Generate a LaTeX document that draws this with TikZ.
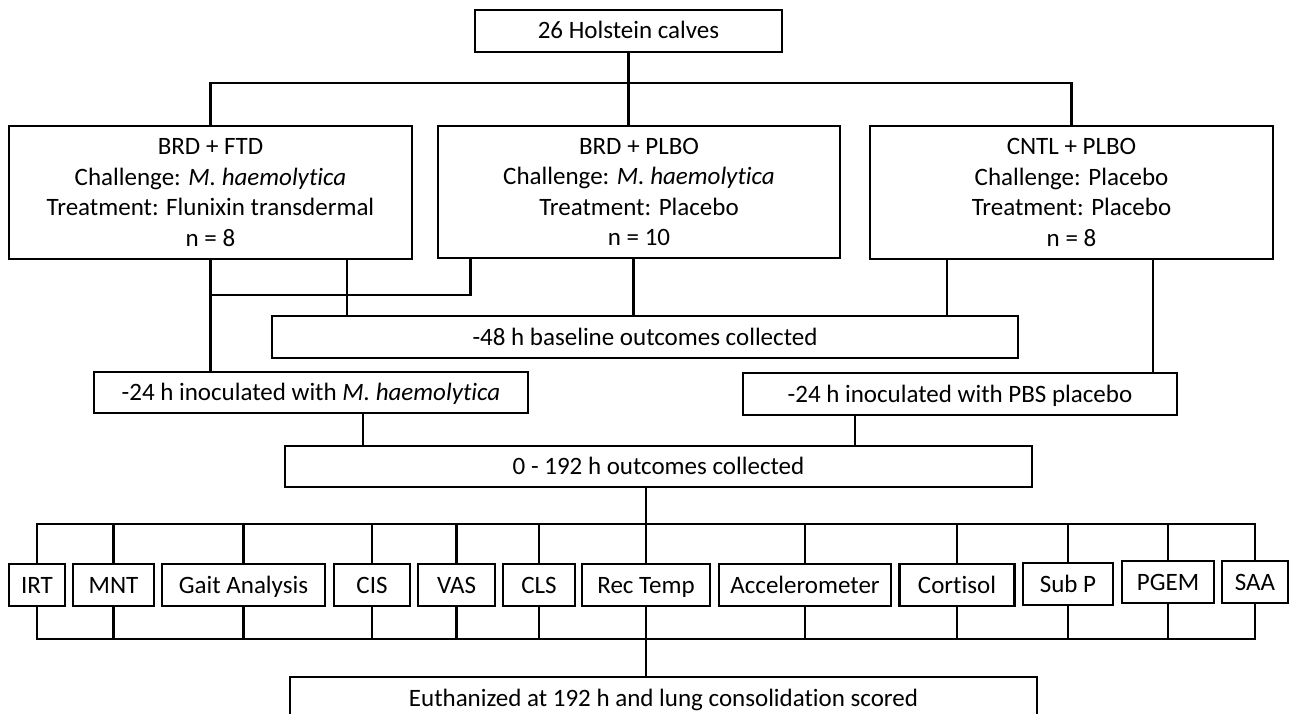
\documentclass[tikz,border=0pt]{standalone}
\usepackage{fontspec}
\setmainfont{Carlito}[Ligatures=NoCommon]

\begin{document}
\begin{tikzpicture}[x=1pt,y=-1pt,
  box/.style={shape=rectangle,draw=black,line width=2.7pt,inner sep=0pt,align=center,font=\fontsize{25}{30.5}\selectfont},
  onebox/.style={box,text height=22pt,text depth=6pt,minimum height=42pt},
  link/.style={-,line width=2.7pt,black}]

\useasboundingbox (0,0) rectangle (1291,714);
\clip (0,0) rectangle (1291,714);

% nodes

\node[onebox, minimum width=307pt] (calves) at (628.5,31) {26 Holstein calves};

\node[box, minimum width=403pt, minimum height=133pt] (ftd) at (210.5,192.5) {BRD + FTD\\Challenge: \textit{M. haemolytica}\\Treatment: Flunixin transdermal\\n = 8};
\node[box, minimum width=402pt, minimum height=132pt] (plbo) at (639,192) {BRD + PLBO\\Challenge: \textit{M. haemolytica}\\Treatment: Placebo\\n = 10};
\node[box, minimum width=403pt, minimum height=133pt] (cntl) at (1071.5,192.5) {CNTL + PLBO\\Challenge: Placebo\\Treatment: Placebo\\n = 8};

\node[onebox, minimum width=746pt] (base48) at (645,337) {-48 h baseline outcomes collected};
\node[onebox, minimum width=434pt, minimum height=41pt] (inocm) at (311,392.5) {-24 h inoculated with \textit{M. haemolytica}};
\node[onebox, minimum width=434pt] (inocp) at (960,394) {-24 h inoculated with PBS placebo};
\node[onebox, minimum width=747pt, minimum height=41pt] (out192) at (658.5,466.5) {0 - 192 h outcomes collected};

\node[onebox, minimum width=56pt] (irt) at (37,585) {IRT};
\node[onebox, minimum width=81pt] (mnt) at (113.5,585) {MNT};
\node[onebox, minimum width=163pt] (gait) at (243.5,585) {Gait Analysis};
\node[onebox, minimum width=76pt] (cis) at (372,585) {CIS};
\node[onebox, minimum width=77pt] (vas) at (456.5,585) {VAS};
\node[onebox, minimum width=72pt] (cls) at (539,585) {CLS};
\node[onebox, minimum width=128pt] (rec) at (646,585) {Rec Temp};
\node[onebox, minimum width=172pt] (acc) at (805,585) {Accelerometer};
\node[onebox, minimum width=115pt] (cort) at (957,585) {Cortisol};
\node[onebox, minimum width=90pt] (subp) at (1068,584) {Sub P};
\node[onebox, minimum width=92pt] (pgem) at (1168,582) {PGEM};
\node[onebox, minimum width=66pt] (saa) at (1255,582) {SAA};

\node[onebox, minimum width=747pt] (euth) at (663.5,698) {Euthanized at 192 h and lung consolidation scored};

%% junctions
\coordinate (busA) at (0,83);
\coordinate (j1) at (470.5,295);
\coordinate (d1) at (347,0);
\coordinate (d2) at (633.5,0);
\coordinate (d3) at (947,0);
\coordinate (d4) at (1153,0);
\coordinate (d5) at (363,0);
\coordinate (d6) at (855,0);
\coordinate (busB) at (0,524);
\coordinate (busC) at (0,639);

%% lines
\draw[link] (ftd.north) -- (ftd.north |- busA) -- (cntl.north |- busA) -- (cntl.north);
\draw[link] (calves.south) -- (calves.south |- plbo.north);

\draw[link] (ftd.south) -- (ftd.south |- inocm.north);
\draw[link] (d1 |- ftd.south) -- (d1 |- base48.north);
\draw[link] (j1 |- plbo.south) -- (j1) -- (ftd.south |- j1);
\draw[link] (d2 |- plbo.south) -- (d2 |- base48.north);
\draw[link] (d3 |- cntl.south) -- (d3 |- base48.north);
\draw[link] (d4 |- cntl.south) -- (d4 |- inocp.north);

\draw[link] (d5 |- inocm.south) -- (d5 |- out192.north);
\draw[link] (d6 |- inocp.south) -- (d6 |- out192.north);

%% outcomes
\draw[link] (rec.north |- out192.south) -- (rec.north);
\draw[link] (irt.north) -- (irt.north |- busB) -- (saa.north |- busB) -- (saa.north);
\path[link] (mnt.north) edge (mnt.north |- busB);
\path[link] (gait.north) edge (gait.north |- busB);
\path[link] (cis.north) edge (cis.north |- busB);
\path[link] (vas.north) edge (vas.north |- busB);
\path[link] (cls.north) edge (cls.north |- busB);
\path[link] (acc.north) edge (acc.north |- busB);
\path[link] (cort.north) edge (cort.north |- busB);
\path[link] (subp.north) edge (subp.north |- busB);
\path[link] (pgem.north) edge (pgem.north |- busB);

\draw[link] (irt.south) -- (irt.south |- busC) -- (saa.south |- busC) -- (saa.south);
\path[link] (mnt.south) edge (mnt.south |- busC);
\path[link] (gait.south) edge (gait.south |- busC);
\path[link] (cis.south) edge (cis.south |- busC);
\path[link] (vas.south) edge (vas.south |- busC);
\path[link] (cls.south) edge (cls.south |- busC);
\path[link] (acc.south) edge (acc.south |- busC);
\path[link] (cort.south) edge (cort.south |- busC);
\path[link] (subp.south) edge (subp.south |- busC);
\path[link] (pgem.south) edge (pgem.south |- busC);
\draw[link] (rec.south) -- (rec.south |- euth.north);

\end{tikzpicture}
\end{document}
